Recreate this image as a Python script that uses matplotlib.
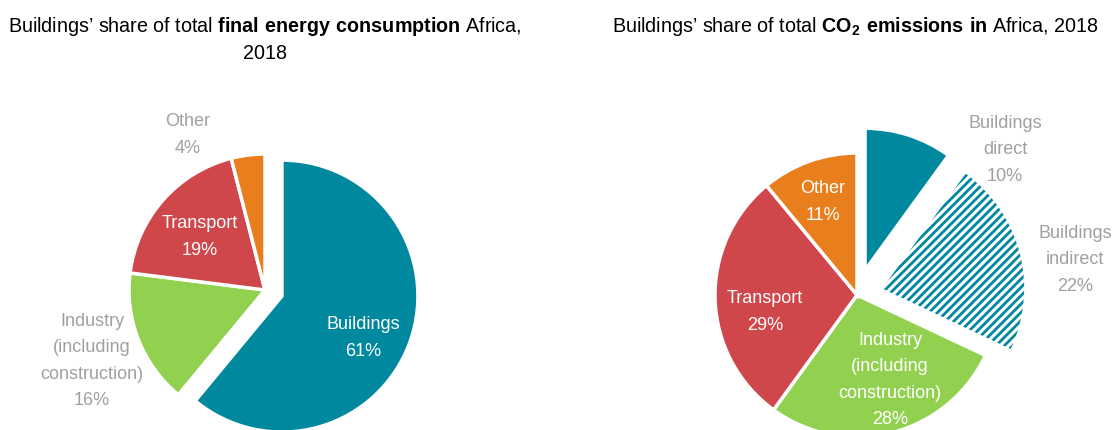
import matplotlib as mpl
import matplotlib.pyplot as plt
from matplotlib import font_manager

# data
energy_labels = ["Buildings", "Industry\n(including\nconstruction)", "Transport", "Other"]
energy_shares = [61, 16, 19, 4]

co2_labels = ["Buildings\ndirect", "Buildings\nindirect", "Industry\n(including\nconstruction)",
              "Transport", "Other"]
co2_shares = [10, 22, 28, 29, 11]

# look
teal = "#00889F"
green = "#92D050"
red = "#D0474B"
orange = "#E97E1C"
grey = "#A0A0A0"

names = {f.name for f in font_manager.fontManager.ttflist}
narrow = "Liberation Sans Narrow" in names
family = "Liberation Sans Narrow" if narrow else "Liberation Sans"

mpl.rcParams['font.family'] = family
mpl.rcParams['mathtext.fontset'] = 'custom'
mpl.rcParams['mathtext.rm'] = family
mpl.rcParams['mathtext.bf'] = family + ':bold'
mpl.rcParams['hatch.linewidth'] = 2.0

W, H = 1115, 430
font_size = 15.5 if narrow else 13
title_size = 17 if narrow else 14.2
spacing = 1.45 if narrow else 1.7

fig = plt.figure(figsize=(W / 100, H / 100), dpi=100)
ax = fig.add_axes([0, 0, 1, 1])


def py(y):
    # pixel row -> data y
    return H - y


# left pie: final energy consumption
c1 = (265, py(290))
r1 = 136
w1, _ = ax.pie(energy_shares, colors=[teal, green, red, orange], startangle=90,
               counterclock=False, explode=[18, 0, 0, 0], center=c1, radius=r1,
               wedgeprops=dict(edgecolor="white", linewidth=2.5))

# right pie: CO2 emissions
c2 = (857, py(295))
r2 = 142
w2, _ = ax.pie(co2_shares, colors=[teal, "white", green, red, orange], startangle=90,
               counterclock=False, explode=[26, 26, 0, 0, 0], center=c2, radius=r2,
               wedgeprops=dict(edgecolor="white", linewidth=2.5))
w2[1].set_edgecolor(teal)
w2[1].set_linewidth(0)
w2[1].set_hatch("////")

# label placement (pixel centres) and colour
energy_pos = [(363, 338, "white"), (92, 361, grey), (200, 237, "white"), (188, 135, grey)]
co2_pos = [(1005, 150, grey), (1075, 260, grey), (890, 380, "white"),
           (765, 312, "white"), (823, 202, "white")]

for lab, val, (x, y, col) in zip(energy_labels, energy_shares, energy_pos):
    ax.text(x, py(y), "%s\n%d%%" % (lab, val), ha="center", va="center",
            color=col, fontsize=font_size, linespacing=spacing)
for lab, val, (x, y, col) in zip(co2_labels, co2_shares, co2_pos):
    ax.text(x, py(y), "%s\n%d%%" % (lab, val), ha="center", va="center",
            color=col, fontsize=font_size, linespacing=spacing)

ax.text(265, py(39), "Buildings\u2019 share of total $\\mathbf{final\\ energy\\ consumption}$ Africa,\n2018",
        ha="center", va="center", fontsize=title_size, linespacing=1.45, color="black")
ax.text(855, py(27), "Buildings\u2019 share of total $\\mathbf{CO_2\\ emissions\\ in}$ Africa, 2018",
        ha="center", va="center", fontsize=title_size, color="black")

ax.set_xlim(0, W)
ax.set_ylim(0, H)
ax.set_aspect("equal")
ax.axis("off")

fig.savefig("out.png", dpi=100)
